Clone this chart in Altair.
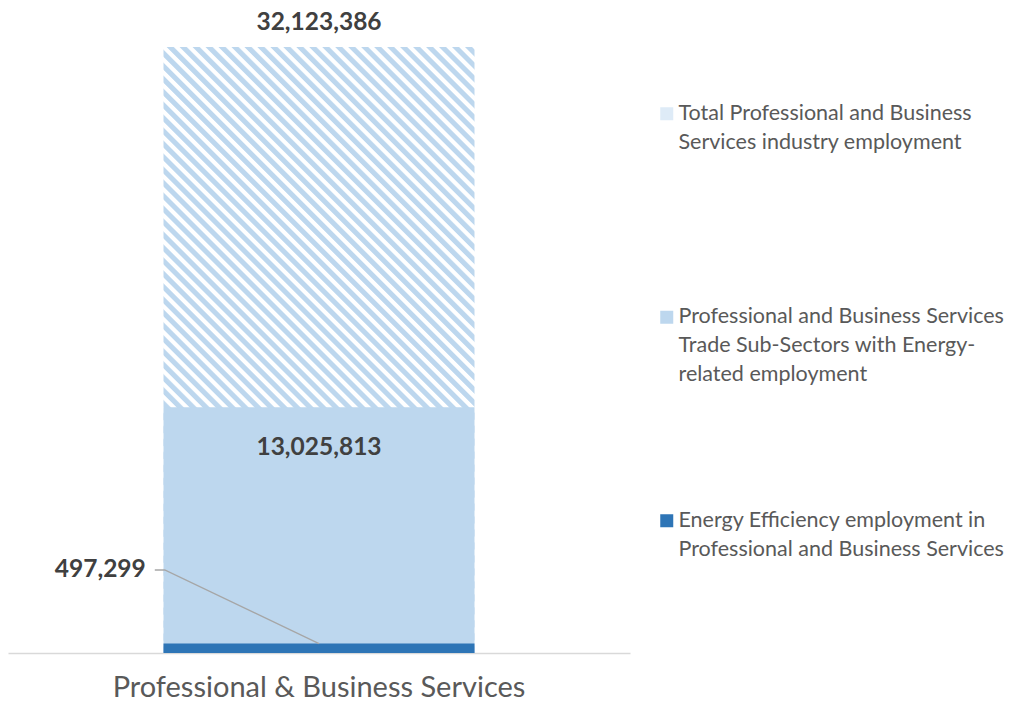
import altair as alt
import pandas as pd

# ---- data ----
categories = ["Professional & Business Services"]
series_names = [
    "Total Professional and Business\nServices industry employment",
    "Professional and Business Services\nTrade Sub-Sectors with Energy-\nrelated employment",
    "Energy Efficiency employment in\nProfessional and Business Services",
]
series_values = [32123386, 13025813, 497299]
swatch_colors = ["#DEEBF7", "#BDD7EE", "#2E75B6"]

df = pd.DataFrame({
    "category": categories * 3,
    "series": series_names,
    "value": series_values,
    "label": [f"{v:,}" for v in series_values],
})

FONT = "Lato"
Y_MAX = 34190000
LABEL_ANCHOR = 4400000  # y position of the callout label for the small series

# callout leader line: label end -> elbow -> top centre of the small bar
leader = pd.DataFrame({
    "lx": [0.236, 0.252, 0.5],
    "ly": [LABEL_ANCHOR, LABEL_ANCHOR, series_values[2]],
})
callout = pd.DataFrame({"lx": [0.236], "ly": [LABEL_ANCHOR], "label": [f"{series_values[2]:,}"]})

# diagonal hatch as a striped linear gradient (style only)
W, H = 311.0, 606.0
n_periods = 115
stops = []
for k in range(n_periods):
    b = k / n_periods
    step = 1.0 / n_periods
    stops += [
        alt.GradientStop(color="#BDD7EE", offset=b),
        alt.GradientStop(color="#BDD7EE", offset=b + 0.44 * step),
        alt.GradientStop(color="#FFFFFF", offset=b + 0.56 * step),
        alt.GradientStop(color="#FFFFFF", offset=b + 0.90 * step),
    ]
stops.append(alt.GradientStop(color="#BDD7EE", offset=1.0))
hatch = alt.LinearGradient(gradient="linear", stops=stops, x1=0, y1=1, x2=1, y2=1 - H / W)

x_enc = alt.X(
    "category:N",
    scale=alt.Scale(paddingInner=0.5, paddingOuter=0.25),
    axis=alt.Axis(
        title=None, labelAngle=0, ticks=False, domainColor="#D9D9D9", domainWidth=1.5,
        labelFont=FONT, labelFontSize=29, labelColor="#595959", labelPadding=20, labelLimit=600,
    ),
)
y_enc = alt.Y("value:Q", scale=alt.Scale(domain=[0, Y_MAX], nice=False), axis=None)
color_enc = alt.Color(
    "series:N",
    scale=alt.Scale(domain=series_names, range=swatch_colors),
    legend=alt.Legend(
        title=None, orient="none", legendX=648, legendY=95, padding=0,
        labelExpr="split(datum.label, '\\n')",
        labelFont=FONT, labelFontSize=21.5, labelColor="#595959", labelLimit=400,
        symbolType="square", symbolSize=169, symbolStrokeWidth=0, labelOffset=1,
        rowPadding=122.5, gridAlign="all",
    ),
)

base = alt.Chart(df)

total_bar = base.transform_filter(alt.datum.series == series_names[0]).mark_bar(
    fill=hatch, strokeWidth=0
).encode(x=x_enc, y=y_enc)
sub_bar = base.transform_filter(alt.datum.series == series_names[1]).mark_bar(strokeWidth=0).encode(
    x=x_enc, y=y_enc, color=color_enc
)
ee_bar = base.transform_filter(alt.datum.series == series_names[2]).mark_bar(strokeWidth=0).encode(
    x=x_enc, y=y_enc, color=color_enc
)

txt = dict(font=FONT, fontSize=24.5, fontWeight="bold", color="#404040")
total_lbl = base.transform_filter(alt.datum.series == series_names[0]).mark_text(dy=-24, **txt).encode(
    x=x_enc, y=y_enc, text="label:N"
)
sub_lbl = base.transform_filter(alt.datum.series == series_names[1]).mark_text(dy=41, **txt).encode(
    x=x_enc, y=y_enc, text="label:N"
)

main = alt.layer(total_bar, sub_bar, ee_bar, total_lbl, sub_lbl)

lx = alt.X("lx:Q", scale=alt.Scale(domain=[0, 1], nice=False, zero=False), axis=None)
ly = alt.Y("ly:Q", scale=alt.Scale(domain=[0, Y_MAX], nice=False), axis=None)
lead_line = alt.Chart(leader).mark_line(color="#A6A6A6", strokeWidth=1.3).encode(x=lx, y=ly)
ee_lbl = alt.Chart(callout).mark_text(dx=-9, align="right", **txt).encode(x=lx, y=ly, text="label:N")

chart = alt.layer(main, lead_line, ee_lbl).resolve_scale(x="independent").properties(
    width=622, height=645, autosize="none",
    padding={"left": 0, "top": 0, "right": 380, "bottom": 49},
).configure(
    background="white", style={"guide-label": {"lineHeight": 29}}
).configure_view(stroke=None)

chart.save("out.html", embed_options={"renderer": "svg", "actions": False})
